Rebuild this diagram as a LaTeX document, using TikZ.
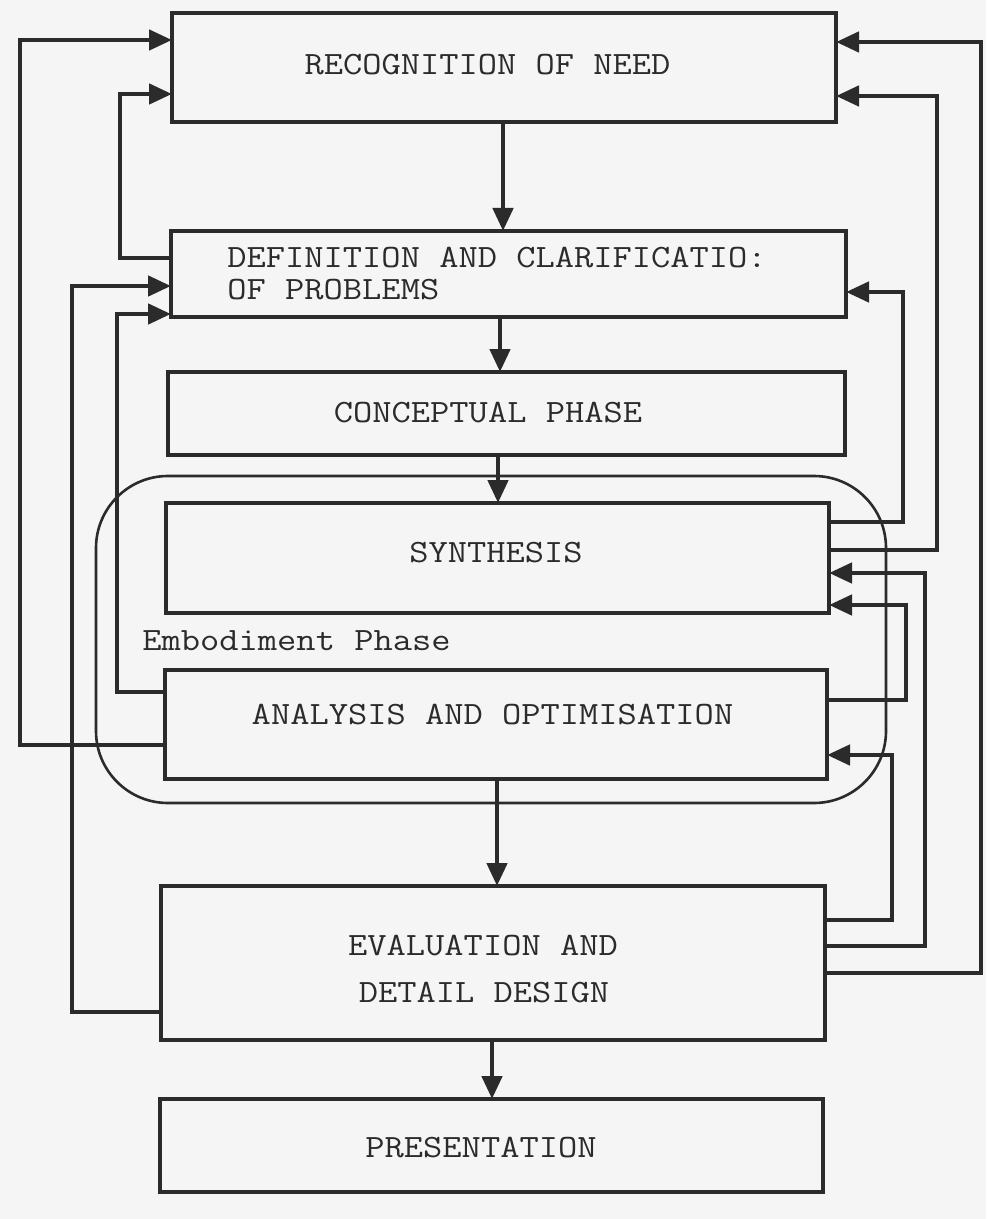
\documentclass[tikz,border=0pt]{standalone}
\usetikzlibrary{arrows.meta}
\definecolor{ink}{HTML}{2B2B2B}
\definecolor{paper}{HTML}{F5F5F5}
% typewriter label, slightly flattened
\newcommand\twtext[1]{\scalebox{1}[0.87]{#1}}
\begin{document}
\begin{tikzpicture}[x=0.5pt,y=-0.5pt,
  stagebox/.style={draw=ink,line width=2.3pt,inner sep=0pt,outer sep=0pt},
  lbl/.style={inner sep=0pt,text=ink,font=\fontsize{18.7}{22}\selectfont\ttfamily},
  arr/.style={draw=ink,line width=2.3pt,-{Triangle[length=11.5pt,width=10pt]}},
  fb/.style={draw=ink,line width=2.3pt,-{Triangle[length=11.5pt,width=10pt]}},
  phase/.style={draw=ink,line width=1.3pt,rounded corners=36pt,inner sep=0pt}]
\fill[paper] (0,0) rectangle (986,1219);
\useasboundingbox (0,0) rectangle (986,1219);

% embodiment phase frame
\node[phase,minimum width=395pt,minimum height=163.5pt] (emb) at (491,639.5) {};

% stage boxes
\node[stagebox,minimum width=332pt,minimum height=54.5pt]   (rec) at (504,67.5) {};
\node[stagebox,minimum width=337.5pt,minimum height=43pt]   (def) at (508.5,274) {};
\node[stagebox,minimum width=338.5pt,minimum height=41.5pt] (con) at (506.5,413.5) {};
\node[stagebox,minimum width=331.5pt,minimum height=55pt]   (syn) at (497.5,558) {};
\node[stagebox,minimum width=331pt,minimum height=54.5pt]   (ana) at (496,724.5) {};
\node[stagebox,minimum width=332pt,minimum height=77pt]     (eva) at (493,963) {};
\node[stagebox,minimum width=331.5pt,minimum height=46.5pt] (pre) at (491.5,1145.5) {};

% labels
\node[lbl] (recT) at (487.5,65) {\twtext{RECOGNITION OF NEED}};
\node[lbl,anchor=west] (defA) at (227,258) {\twtext{DEFINITION AND CLARIFICATIO:}};
\node[lbl,anchor=west] (defB) at (227,290) {\twtext{OF PROBLEMS}};
\node[lbl] (conT) at (488,413) {\twtext{CONCEPTUAL PHASE}};
\node[lbl] (synT) at (496,553) {\twtext{SYNTHESIS}};
\node[lbl,anchor=west] (embT) at (142,641) {\twtext{Embodiment Phase}};
\node[lbl] (anaT) at (492.5,715) {\twtext{ANALYSIS AND OPTIMISATION}};
\node[lbl] (evaA) at (483,946) {\twtext{EVALUATION AND}};
\node[lbl] (evaB) at (484,993) {\twtext{DETAIL DESIGN}};
\node[lbl] (preT) at (481,1148) {\twtext{PRESENTATION}};

% main sequence
\coordinate (c1) at (503,0);
\coordinate (c2) at (500,0);
\coordinate (c3) at (498,0);
\coordinate (c4) at (497,0);
\coordinate (c5) at (492,0);
\draw[arr] (rec.south -| c1) -- (def.north -| c1);
\draw[arr] (def.south -| c2) -- (con.north -| c2);
\draw[arr] (con.south -| c3) -- (syn.north -| c3);
\draw[arr] (ana.south -| c4) -- (eva.north -| c4);
\draw[arr] (eva.south -| c5) -- (pre.north -| c5);

% feedback loops, left side
\draw[fb] (ana.west |- 0,745) -| (20,40) -- (rec.west |- 0,40);
\draw[fb] (def.west |- 0,258) -| (120,94) -- (rec.west |- 0,94);
\draw[fb] (eva.west |- 0,1012) -| (72,286) -- (def.west |- 0,286);
\draw[fb] (ana.west |- 0,692) -| (117,314) -- (def.west |- 0,314);

% feedback loops, right side
\draw[fb] (eva.east |- 0,973) -| (981,42) -- (rec.east |- 0,42);
\draw[fb] (syn.east |- 0,550) -| (937,96) -- (rec.east |- 0,96);
\draw[fb] (syn.east |- 0,522) -| (903,292) -- (def.east |- 0,292);
\draw[fb] (eva.east |- 0,946) -| (925,573) -- (syn.east |- 0,573);
\draw[fb] (ana.east |- 0,700) -| (906,605) -- (syn.east |- 0,605);
\draw[fb] (eva.east |- 0,920) -| (892,755) -- (ana.east |- 0,755);
\end{tikzpicture}
\end{document}
